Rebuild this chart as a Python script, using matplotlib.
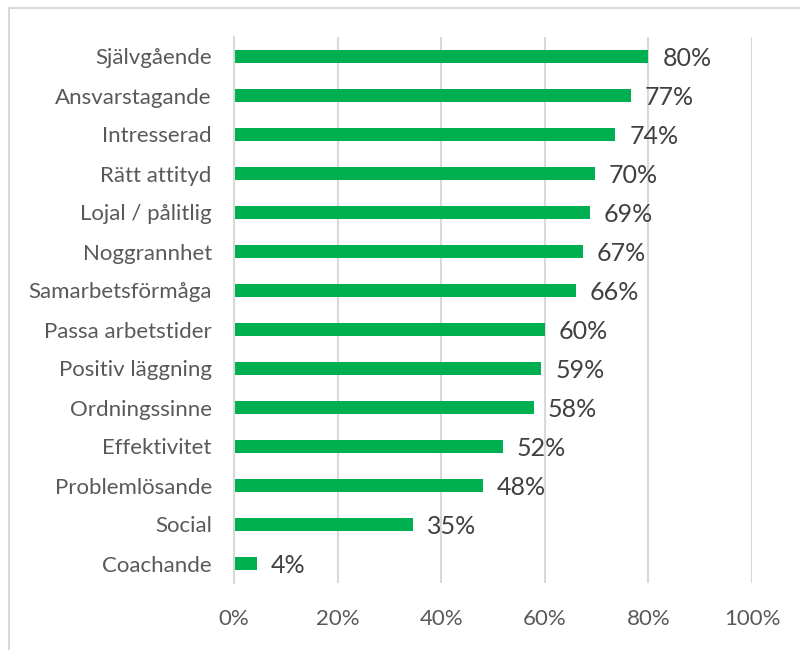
import matplotlib
matplotlib.use("Agg")
import matplotlib.pyplot as plt
from matplotlib.lines import Line2D
from matplotlib.ticker import PercentFormatter, MultipleLocator

categories = ["Självgående", "Ansvarstagande", "Intresserad", "Rätt attityd",
              "Lojal / pålitlig", "Noggrannhet", "Samarbetsförmåga",
              "Passa arbetstider", "Positiv läggning", "Ordningssinne",
              "Effektivitet", "Problemlösande", "Social", "Coachande"]
values = [0.80, 0.766, 0.736, 0.697, 0.687, 0.674, 0.660,
          0.600, 0.593, 0.579, 0.519, 0.481, 0.346, 0.044]
labels = ["80%", "77%", "74%", "70%", "69%", "67%", "66%",
          "60%", "59%", "58%", "52%", "48%", "35%", "4%"]

plt.rcParams['font.family'] = ['Lato', 'DejaVu Sans']
text_color = "#595959"
grid_color = "#D9D9D9"
bar_color = "#00B050"

fig = plt.figure(figsize=(8, 6.5), dpi=100)
ax = fig.add_axes([234/800, 1-583/650, (752-234)/800, (583-37)/650])

n = len(categories)
ypos = list(range(n))
ax.barh(ypos, values, height=0.33, color=bar_color, zorder=3)
ax.set_ylim(n - 0.5, -0.5)
ax.set_xlim(0, 1.0)
ax.set_yticks(ypos)
ax.set_yticklabels(categories, fontsize=16, color=text_color)
ax.xaxis.set_major_locator(MultipleLocator(0.2))
ax.xaxis.set_major_formatter(PercentFormatter(1.0, decimals=0))
ax.tick_params(axis='x', labelsize=16, colors=text_color, length=0, pad=19)
ax.tick_params(axis='y', length=0, pad=16)
ax.grid(axis='x', color=grid_color, linewidth=1.5, zorder=0)
for s in ["top", "right", "bottom"]:
    ax.spines[s].set_visible(False)
ax.spines["left"].set_color(grid_color)
ax.spines["left"].set_linewidth(1.5)
ax.spines["left"].set_zorder(4)

for y, v, lab in zip(ypos, values, labels):
    ax.annotate(lab, xy=(v, y), xytext=(10, -1.5), textcoords="offset points",
                va="center", ha="left", fontsize=18, color="#404040", zorder=5)

# outer chart border (left and top visible)
fig.add_artist(Line2D([8.5/800, 8.5/800], [0, 1-7.5/650], transform=fig.transFigure,
                      color=grid_color, linewidth=1.5))
fig.add_artist(Line2D([8.5/800, 1], [1-7.5/650, 1-7.5/650], transform=fig.transFigure,
                      color=grid_color, linewidth=1.5))

fig.savefig("out.png", dpi=100)
